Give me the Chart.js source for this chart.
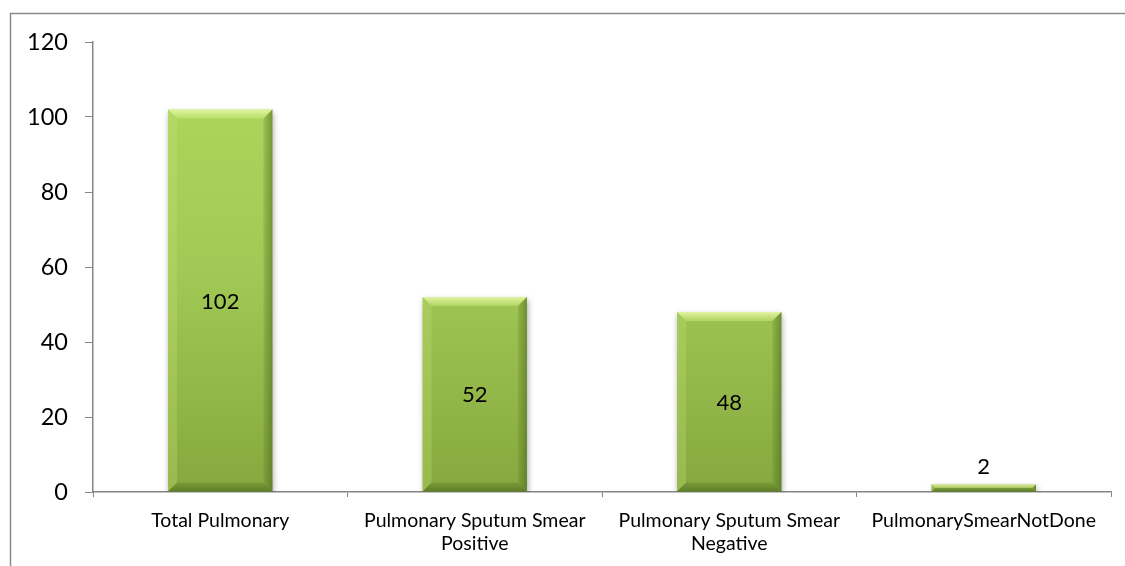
<!DOCTYPE html>
<html>
<head>
<meta charset="utf-8">
<script src="https://cdn.jsdelivr.net/npm/chart.js@4"></script>
<style>
html,body{margin:0;padding:0;background:#fff;}
#wrap{width:1125px;height:566px;position:relative;}
</style>
</head>
<body>
<div id="wrap"><canvas id="c" width="1125" height="566"></canvas></div>
<script>
const categories = [
  "Total Pulmonary",
  ["Pulmonary Sputum Smear", "Positive"],
  ["Pulmonary Sputum Smear", "Negative"],
  "PulmonarySmearNotDone"
];
const values = [102, 52, 48, 2];
const yTicks = [0, 20, 40, 60, 80, 100, 120];

const FONT = "Lato, 'Open Sans', sans-serif";

const frame = {
  id: 'frame',
  beforeDraw(chart) {
    const ctx = chart.ctx;
    ctx.save();
    ctx.fillStyle = '#fff';
    ctx.fillRect(0, 0, chart.width, chart.height);
    ctx.strokeStyle = '#8a8a8a';
    ctx.lineWidth = 1.5;
    ctx.strokeRect(10.5, 13.5, 1140, 600);
    ctx.restore();
  }
};

const shadow = {
  id: 'shadow',
  beforeDatasetDraw(chart) {
    const ctx = chart.ctx;
    ctx.save();
    ctx.shadowColor = 'rgba(0,0,0,0.35)';
    ctx.shadowBlur = 6;
    ctx.shadowOffsetX = 1;
    ctx.shadowOffsetY = 3;
  },
  afterDatasetDraw(chart) {
    chart.ctx.restore();
  }
};

const bevel = {
  id: 'bevel',
  afterDatasetsDraw(chart) {
    const ctx = chart.ctx;
    const meta = chart.getDatasetMeta(0);
    meta.data.forEach((bar) => {
      const l = bar.x - bar.width / 2, r = bar.x + bar.width / 2;
      const t = Math.min(bar.y, bar.base), b = Math.max(bar.y, bar.base);
      const h = b - t;
      const s = Math.min(9, h / 2);
      ctx.save();
      let g = ctx.createLinearGradient(0, t, 0, t + s);
      g.addColorStop(0, 'rgba(235,250,175,0.9)');
      g.addColorStop(1, 'rgba(205,235,125,0.45)');
      ctx.fillStyle = g;
      ctx.beginPath();
      ctx.moveTo(l, t); ctx.lineTo(r, t); ctx.lineTo(r - s, t + s); ctx.lineTo(l + s, t + s); ctx.closePath();
      ctx.fill();
      ctx.fillStyle = 'rgba(195,225,115,0.30)';
      ctx.beginPath();
      ctx.moveTo(l, t); ctx.lineTo(l + s, t + s); ctx.lineTo(l + s, b - s); ctx.lineTo(l, b); ctx.closePath();
      ctx.fill();
      g = ctx.createLinearGradient(r - s, 0, r, 0);
      g.addColorStop(0, 'rgba(80,110,30,0.18)');
      g.addColorStop(1, 'rgba(60,90,20,0.5)');
      ctx.fillStyle = g;
      ctx.beginPath();
      ctx.moveTo(r, t); ctx.lineTo(r, b); ctx.lineTo(r - s, b - s); ctx.lineTo(r - s, t + s); ctx.closePath();
      ctx.fill();
      g = ctx.createLinearGradient(0, b - s, 0, b);
      g.addColorStop(0, 'rgba(70,100,25,0.22)');
      g.addColorStop(1, 'rgba(60,90,20,0.55)');
      ctx.fillStyle = g;
      ctx.beginPath();
      ctx.moveTo(l, b); ctx.lineTo(r, b); ctx.lineTo(r - s, b - s); ctx.lineTo(l + s, b - s); ctx.closePath();
      ctx.fill();
      ctx.restore();
    });
  }
};

const valueLabels = {
  id: 'valueLabels',
  afterDatasetsDraw(chart) {
    const ctx = chart.ctx;
    const meta = chart.getDatasetMeta(0);
    ctx.save();
    ctx.fillStyle = '#000';
    ctx.font = '22px ' + FONT;
    ctx.textAlign = 'center';
    ctx.textBaseline = 'middle';
    meta.data.forEach((bar, i) => {
      const h = Math.abs(bar.base - bar.y);
      let y;
      if (h < 30) y = bar.y - 18;
      else y = (bar.y + bar.base) / 2 + 1;
      ctx.fillText(String(values[i]), bar.x, y);
    });
    ctx.restore();
  }
};

new Chart(document.getElementById('c'), {
  type: 'bar',
  data: {
    labels: categories,
    datasets: [{
      data: values,
      backgroundColor(ctx) {
        const ca = ctx.chart.chartArea;
        if (!ca) return '#9bc24c';
        const g = ctx.chart.ctx.createLinearGradient(0, ca.top, 0, ca.bottom);
        g.addColorStop(0, '#b0d95f');
        g.addColorStop(0.5, '#a2c955');
        g.addColorStop(1, '#86a83f');
        return g;
      },
      borderWidth: 0,
      categoryPercentage: 1,
      barPercentage: 0.41
    }]
  },
  options: {
    responsive: false,
    animation: false,
    devicePixelRatio: 1,
    layout: { padding: { top: 42, right: 14, left: 0, bottom: 0 } },
    plugins: { legend: { display: false }, tooltip: { enabled: false } },
    scales: {
      x: {
        afterFit(s) { s.height = 74; },
        grid: { display: true, drawOnChartArea: false, drawTicks: true, tickLength: 5, color: '#868686', offset: true },
        border: { display: true, color: '#868686', width: 1.5 },
        ticks: { color: '#000', font: { family: FONT, size: 19.5 }, padding: 12, maxRotation: 0, autoSkip: false, lineHeight: 1.18 }
      },
      y: {
        min: 0, max: 120,
        afterFit(s) { s.width = 93; },
        afterBuildTicks(s) { s.ticks = yTicks.map(v => ({ value: v })); },
        grid: { display: true, drawOnChartArea: false, drawTicks: true, tickLength: 8, color: '#868686' },
        border: { display: true, color: '#868686', width: 1.5 },
        ticks: { color: '#000', font: { family: FONT, size: 23.5 }, padding: 17 }
      }
    }
  },
  plugins: [frame, shadow, bevel, valueLabels]
});
</script>
</body>
</html>
